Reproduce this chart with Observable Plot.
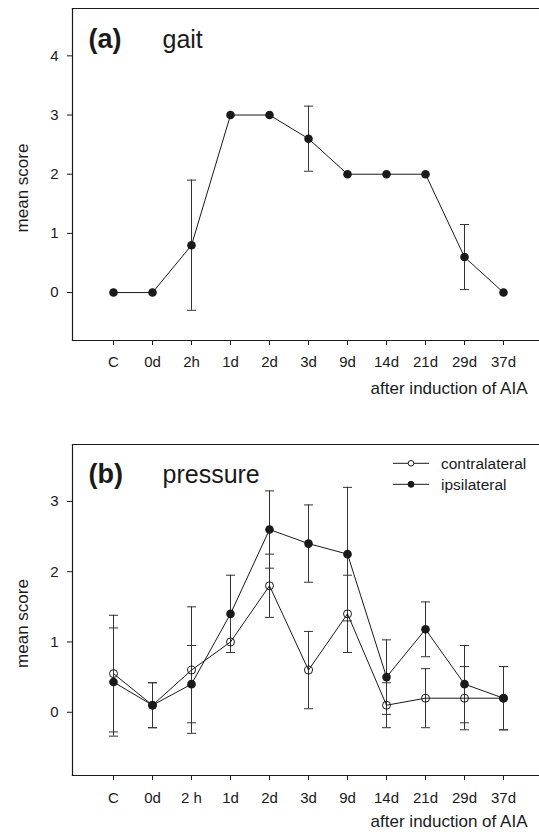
<!DOCTYPE html>
<html>
<head>
<meta charset="utf-8">
<script src="https://cdn.jsdelivr.net/npm/d3@7"></script>
<script src="https://cdn.jsdelivr.net/npm/@observablehq/plot@0.6"></script>
<style>
  html, body { margin: 0; padding: 0; background: #fff; overflow: hidden; }
  #chart svg { display: block; }
</style>
</head>
<body>
<div id="chart"></div>
<script>
// ---- data ----
const timepointsA = ["C","0d","2h","1d","2d","3d","9d","14d","21d","29d","37d"];
const timepointsB = ["C","0d","2 h","1d","2d","3d","9d","14d","21d","29d","37d"];
const gaitMean = [0, 0, 0.8, 3, 3, 2.6, 2, 2, 2, 0.6, 0];
const gaitErr  = [0, 0, 1.1, 0, 0, 0.55, 0, 0, 0, 0.55, 0];
const contraMean = [0.55, 0.1, 0.6, 1.0, 1.8, 0.6, 1.4, 0.1, 0.2, 0.2, 0.2];
const contraErr  = [0.83, 0.32, 0.9, 0, 0.45, 0.55, 0.55, 0.32, 0.42, 0.45, 0.45];
const ipsiMean = [0.43, 0.1, 0.4, 1.4, 2.6, 2.4, 2.25, 0.5, 1.18, 0.4, 0.2];
const ipsiErr  = [0.77, 0.32, 0.55, 0.55, 0.55, 0.55, 0.95, 0.53, 0.39, 0.55, 0.45];
const yTicksA = [0, 1, 2, 3, 4];
const yTicksB = [0, 1, 2, 3];
const xLabel = "after induction of AIA";
const yLabel = "mean score";

const FONT = "'Liberation Sans', Arial, Helvetica, sans-serif";
const INK = "#1a1a1a";
const BAR = "#333";

const capSymbol = {
  draw(ctx, size) {
    const w = Math.sqrt(size / Math.PI);
    ctx.moveTo(-w, 0);
    ctx.lineTo(w, 0);
  }
};

const rowsA = timepointsA.map((t, i) => ({t, m: gaitMean[i], e: gaitErr[i]}));
const rowsContra = timepointsB.map((t, i) => ({t, m: contraMean[i], e: contraErr[i]}));
const rowsIpsi = timepointsB.map((t, i) => ({t, m: ipsiMean[i], e: ipsiErr[i]}));

function errMarks(rows) {
  const r = rows.filter(d => d.e > 0);
  return [
    Plot.ruleX(r, {x: "t", y1: d => d.m - d.e, y2: d => d.m + d.e, stroke: BAR, strokeWidth: 1}),
    Plot.dot(r, {x: "t", y: d => d.m + d.e, symbol: capSymbol, r: 4.5, stroke: BAR, fill: "none", strokeWidth: 1}),
    Plot.dot(r, {x: "t", y: d => d.m - d.e, symbol: capSymbol, r: 4.5, stroke: BAR, fill: "none", strokeWidth: 1})
  ];
}

function frameMarks() {
  return [
    Plot.frame({anchor: "left", stroke: INK, strokeWidth: 1.2}),
    Plot.frame({anchor: "top", stroke: INK, strokeWidth: 1.2}),
    Plot.frame({anchor: "bottom", stroke: INK, strokeWidth: 1.2})
  ];
}

function textMarks(tag, name, titleDy, xlabDy) {
  return [
    Plot.text([tag], {frameAnchor: "top-left", dx: 16, dy: titleDy, text: d => d, fontSize: 27, fontWeight: "bold", textAnchor: "start", lineAnchor: "middle", fill: INK}),
    Plot.text([name], {frameAnchor: "top-left", dx: 90, dy: titleDy, text: d => d, fontSize: 25, textAnchor: "start", lineAnchor: "middle", fill: INK}),
    Plot.text([xLabel], {frameAnchor: "bottom-right", dx: -12, dy: xlabDy, text: d => d, fontSize: 17, textAnchor: "end", lineAnchor: "middle", fill: INK}),
    Plot.text([yLabel], {frameAnchor: "left", dx: -50, dy: 13.5, text: d => d, fontSize: 17, rotate: -90, textAnchor: "middle", lineAnchor: "middle", fill: INK})
  ];
}

const common = {
  width: 539,
  height: 416,
  marginLeft: 72,
  marginRight: 0,
  style: {fontFamily: FONT, fontSize: "15px", color: INK, background: "#fff"}
};

const plotA = Plot.plot({
  ...common,
  marginTop: 8,
  marginBottom: 76,
  x: {type: "point", domain: timepointsA, padding: 1, range: [72, 543]},
  y: {domain: [-0.81, 4.8]},
  marks: [
    ...frameMarks(),
    Plot.axisX({tickSize: 5, tickPadding: 11, fontSize: 15, label: null}),
    Plot.axisY(yTicksA, {tickSize: 5, tickPadding: 9, fontSize: 15, label: null, tickFormat: d => String(d)}),
    ...errMarks(rowsA),
    Plot.line(rowsA, {x: "t", y: "m", stroke: INK, strokeWidth: 1}),
    Plot.dot(rowsA, {x: "t", y: "m", r: 4.3, fill: INK, stroke: "none"}),
    ...textMarks("(a)", "gait", 31, 48)
  ]
});

const plotB = Plot.plot({
  ...common,
  marginTop: 28,
  marginBottom: 57,
  x: {type: "point", domain: timepointsB, padding: 1, range: [72, 543]},
  y: {domain: [-0.9, 3.81]},
  marks: [
    ...frameMarks(),
    Plot.axisX({tickSize: 5, tickPadding: 12, fontSize: 15, label: null}),
    Plot.axisY(yTicksB, {tickSize: 5, tickPadding: 9, fontSize: 15, label: null, tickFormat: d => String(d)}),
    ...errMarks(rowsContra),
    ...errMarks(rowsIpsi),
    Plot.line(rowsContra, {x: "t", y: "m", stroke: INK, strokeWidth: 1}),
    Plot.line(rowsIpsi, {x: "t", y: "m", stroke: INK, strokeWidth: 1}),
    Plot.dot(rowsContra, {x: "t", y: "m", r: 4, fill: "none", stroke: INK, strokeWidth: 1}),
    Plot.dot(rowsIpsi, {x: "t", y: "m", r: 4.3, fill: INK, stroke: "none"}),
    ...textMarks("(b)", "pressure", 30, 46.5)
  ]
});

// legend inside panel (b), top right
const legendItems = [
  {name: "contralateral", filled: false},
  {name: "ipsilateral", filled: true}
];
const lg = d3.select(plotB).append("g")
  .attr("font-family", FONT).attr("font-size", 15.5).attr("text-anchor", "start");
legendItems.forEach((it, i) => {
  const yy = 47.3 + i * 21;
  lg.append("line").attr("x1", 393).attr("x2", 429).attr("y1", yy).attr("y2", yy)
    .attr("stroke", INK).attr("stroke-width", 1);
  lg.append("circle").attr("cx", 411).attr("cy", yy).attr("r", it.filled ? 3 : 2.8)
    .attr("fill", it.filled ? INK : "#fff").attr("stroke", INK).attr("stroke-width", 1);
  lg.append("text").attr("x", 441).attr("y", yy).attr("dy", "0.35em")
    .style("font-size", "15.5px").style("text-anchor", "start")
    .attr("fill", INK).text(it.name);
});

document.getElementById("chart").append(plotA, plotB);
</script>
</body>
</html>
